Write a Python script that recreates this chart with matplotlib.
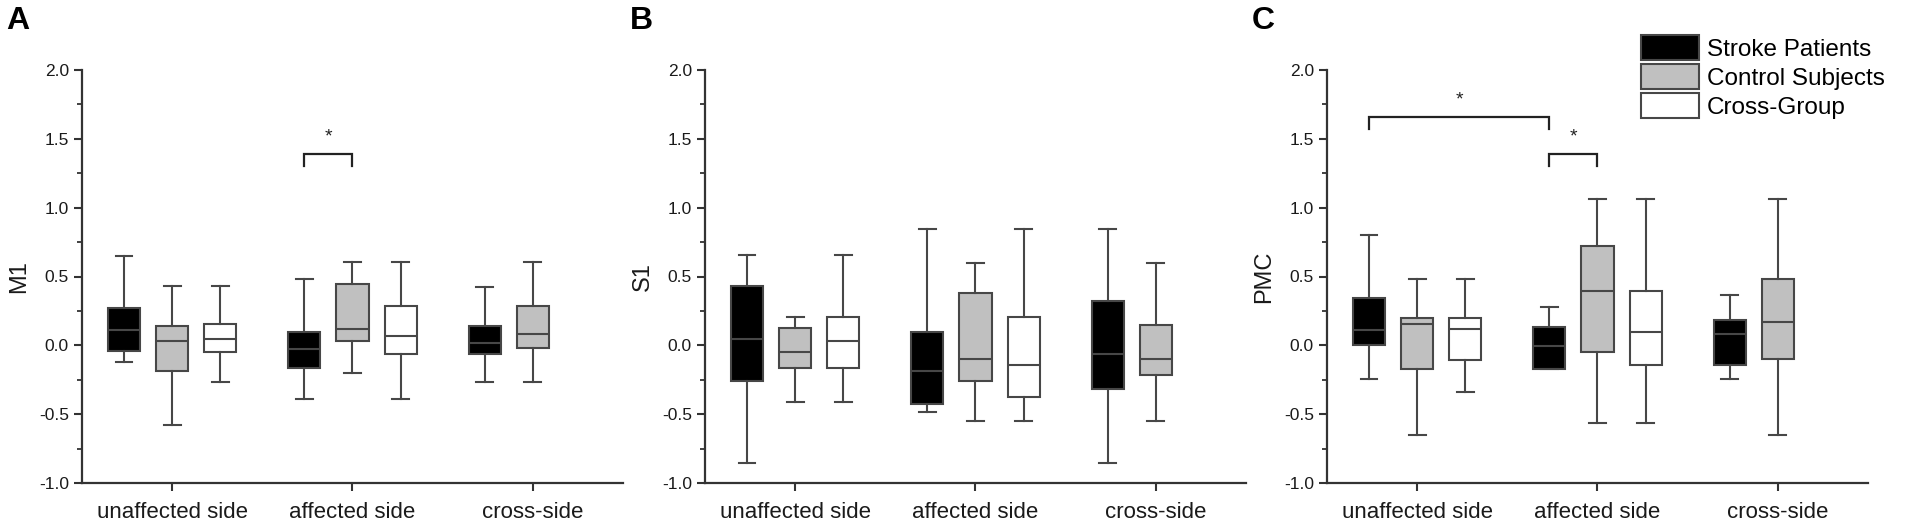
import matplotlib
matplotlib.use('Agg')
import matplotlib.pyplot as plt
from matplotlib.patches import Patch
from matplotlib.ticker import MultipleLocator, FormatStrFormatter

plt.rcParams['font.family'] = ['Liberation Sans', 'DejaVu Sans']

categories = ['unaffected side', 'affected side', 'cross-side']
groups = ['Stroke Patients', 'Control Subjects', 'Cross-Group']
panel_letters = ['A', 'B', 'C']
region_labels = ['M1', 'S1', 'PMC']

# each entry: [whisker low, Q1, median, Q3, whisker high] per category
m1_stroke = [[-0.123, -0.044, 0.108, 0.270, 0.647],
             [-0.387, -0.167, -0.029, 0.098, 0.480],
             [-0.265, -0.061, 0.017, 0.142, 0.426]]
m1_control = [[-0.576, -0.184, 0.034, 0.137, 0.430],
              [-0.200, 0.029, 0.120, 0.446, 0.605],
              [-0.265, -0.017, 0.081, 0.284, 0.605]]
m1_cross = [[-0.265, -0.049, 0.047, 0.152, 0.430],
            [-0.387, -0.061, 0.069, 0.284, 0.605],
            None]

s1_stroke = [[-0.858, -0.260, 0.047, 0.434, 0.654],
             [-0.485, -0.424, -0.186, 0.096, 0.843],
             [-0.858, -0.319, -0.066, 0.321, 0.843]]
s1_control = [[-0.412, -0.164, -0.051, 0.127, 0.206],
              [-0.549, -0.260, -0.100, 0.377, 0.600],
              [-0.549, -0.216, -0.096, 0.147, 0.600]]
s1_cross = [[-0.412, -0.164, 0.029, 0.206, 0.654],
            [-0.549, -0.377, -0.142, 0.206, 0.843],
            None]

pmc_stroke = [[-0.248, 0.005, 0.108, 0.346, 0.800],
              [-0.174, -0.174, -0.007, 0.135, 0.275],
              [-0.248, -0.142, 0.081, 0.186, 0.363]]
pmc_control = [[-0.652, -0.172, 0.152, 0.196, 0.485],
               [-0.566, -0.047, 0.395, 0.723, 1.064],
               [-0.652, -0.098, 0.172, 0.485, 1.064]]
pmc_cross = [[-0.338, -0.103, 0.118, 0.196, 0.485],
             [-0.566, -0.142, 0.096, 0.395, 1.064],
             None]

# significance brackets: (category a, group a, category b, group b, level)
m1_sig = [(1, 0, 1, 1, 1.39)]
s1_sig = []
pmc_sig = [(0, 0, 1, 0, 1.657), (1, 0, 1, 1, 1.39)]

panels = [
    (m1_stroke, m1_control, m1_cross, m1_sig),
    (s1_stroke, s1_control, s1_cross, s1_sig),
    (pmc_stroke, pmc_control, pmc_cross, pmc_sig),
]

fill_colors = ['#000000', '#c0c0c0', '#ffffff']
edge = '#474747'
offsets = [-0.267, 0.0, 0.267]
box_w = 0.178
cap_w = 0.093
lw = 1.5

W, H = 1906, 530
fig = plt.figure(figsize=(W / 100, H / 100), dpi=100)
lefts = [82, 705, 1327]
ax_w = 541
ax_bottom, ax_top = 483, 70
letter_x = [6, 630, 1252]

for i, (stroke, control, cross, sig) in enumerate(panels):
    ax = fig.add_axes([lefts[i] / W, 1 - ax_bottom / H, ax_w / W, (ax_bottom - ax_top) / H])
    for g, series in enumerate([stroke, control, cross]):
        stats, pos = [], []
        for c, v in enumerate(series):
            if v is None:
                continue
            stats.append(dict(whislo=v[0], q1=v[1], med=v[2], q3=v[3], whishi=v[4], fliers=[]))
            pos.append(c + offsets[g])
        ax.bxp(stats, positions=pos, widths=box_w, capwidths=cap_w, patch_artist=True,
               showfliers=False, manage_ticks=False,
               boxprops=dict(facecolor=fill_colors[g], edgecolor=edge, linewidth=lw),
               medianprops=dict(color=edge, linewidth=lw),
               whiskerprops=dict(color=edge, linewidth=lw),
               capprops=dict(color=edge, linewidth=lw))
    for (ca, ga, cb, gb, lvl) in sig:
        xa = ca + offsets[ga]
        xb = cb + offsets[gb]
        ax.plot([xa, xa, xb, xb], [lvl - 0.088, lvl, lvl, lvl - 0.088], color='#222222',
                linewidth=1.6, solid_joinstyle='miter')
        ax.text((xa + xb) / 2, lvl + 0.06, '*', ha='center', va='bottom', fontsize=14, color='#222222')

    ax.set_xlim(-0.5, 2.5)
    ax.set_ylim(-1.0, 2.0)
    ax.set_xticks(range(len(categories)))
    ax.set_xticklabels(categories, fontsize=16, color='#1a1a1a')
    ax.yaxis.set_major_locator(MultipleLocator(0.5))
    ax.yaxis.set_minor_locator(MultipleLocator(0.25))
    ax.yaxis.set_major_formatter(FormatStrFormatter('%.1f'))
    for s in ['top', 'right']:
        ax.spines[s].set_visible(False)
    for s in ['left', 'bottom']:
        ax.spines[s].set_color('#333333')
        ax.spines[s].set_linewidth(1.6)
    ax.tick_params(axis='both', which='major', direction='out', length=6, width=1.5, color='#333333')
    ax.tick_params(axis='y', which='minor', direction='out', length=3.5, width=1.3, color='#333333')
    ax.tick_params(axis='y', which='major', labelsize=12.5, labelcolor='#1a1a1a', pad=3.5)
    ax.tick_params(axis='x', which='major', pad=8)
    ax.set_ylabel(region_labels[i], fontsize=17, color='#1a1a1a', labelpad=6)
    fig.text(letter_x[i] / W, 1 - 6 / H, panel_letters[i], fontsize=23, fontweight='bold',
             ha='left', va='top', color='#000000')

handles = [Patch(facecolor=fill_colors[g], edgecolor=edge, linewidth=lw, label=groups[g])
           for g in range(3)]
fig.legend(handles=handles, loc='upper left', bbox_to_anchor=(1641 / W, 1 - 35 / H),
           frameon=False, fontsize=17.5, handlelength=2.4, handleheight=1.18,
           handletextpad=0.3, labelspacing=0.15, borderpad=0, borderaxespad=0)

fig.savefig('out.png', dpi=100)
